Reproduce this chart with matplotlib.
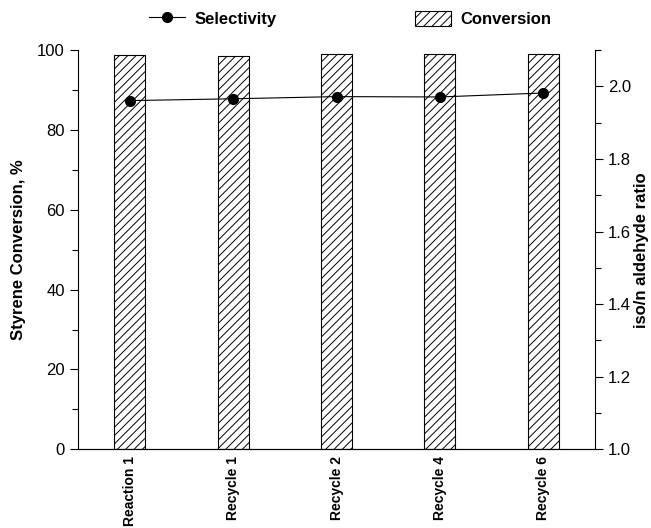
import numpy as np
import matplotlib
matplotlib.use("Agg")
import matplotlib.pyplot as plt
from matplotlib.ticker import MultipleLocator, FormatStrFormatter

plt.rcParams['font.family'] = ['Liberation Sans', 'DejaVu Sans']
plt.rcParams['hatch.linewidth'] = 0.7

labels = ['Reaction 1', 'Recycle 1', 'Recycle 2', 'Recycle 4', 'Recycle 6']
conversion = [98.8, 98.5, 99.1, 99.0, 99.0]
selectivity = [1.961, 1.966, 1.972, 1.971, 1.982]

x = np.arange(len(labels))

fig = plt.figure(figsize=(6.51, 5.28), dpi=100)
ax0 = fig.add_axes([0.12, 0.149, 0.794, 0.756])

bars = ax0.bar(x, conversion, width=0.3, color='white', edgecolor='black',
               hatch='////', linewidth=0.8, label='Conversion', zorder=2)
ax0.set_xlim(-0.5, 4.5)
ax0.set_ylim(0, 100)
ax0.yaxis.set_major_locator(MultipleLocator(20))
ax0.yaxis.set_minor_locator(MultipleLocator(10))
ax0.set_xticks(x)
ax0.set_xticklabels(labels, rotation=90, fontsize=10, fontweight='bold')
ax0.tick_params(axis='x', length=0, pad=5)
ax0.tick_params(axis='y', which='major', labelsize=12, length=6, width=0.8)
ax0.tick_params(axis='y', which='minor', length=4, width=0.8)
ax0.spines['top'].set_visible(False)
ax0.spines['right'].set_visible(False)
ax0.set_ylabel('Styrene Conversion, %', fontsize=12, fontweight='bold', labelpad=8)

ax1 = ax0.twinx()
line, = ax1.plot(x, selectivity, '-o', color='black', linewidth=0.8,
                 markersize=7, label='Selectivity', zorder=3)
ax1.set_ylim(1.0, 2.1)
ax1.yaxis.set_major_locator(MultipleLocator(0.2))
ax1.yaxis.set_minor_locator(MultipleLocator(0.1))
ax1.yaxis.set_major_formatter(FormatStrFormatter('%.1f'))
ax1.tick_params(axis='y', which='major', labelsize=12, length=6, width=0.8)
ax1.tick_params(axis='y', which='minor', length=4, width=0.8)
ax1.spines['top'].set_visible(False)
ax1.spines['left'].set_visible(False)
ax1.set_ylabel('iso/n aldehyde ratio', fontsize=12, fontweight='bold', labelpad=2)

for sp in list(ax0.spines.values()) + list(ax1.spines.values()):
    sp.set_linewidth(0.8)

fig.legend([line, bars], ['Selectivity', 'Conversion'], loc='upper center',
           bbox_to_anchor=(0.538, 1.008), ncol=2, frameon=False, columnspacing=8.3,
           prop={'weight': 'bold', 'size': 12}, handlelength=2.15, handleheight=1.0,
           handletextpad=0.6)

fig.savefig('out.png', dpi=100)
